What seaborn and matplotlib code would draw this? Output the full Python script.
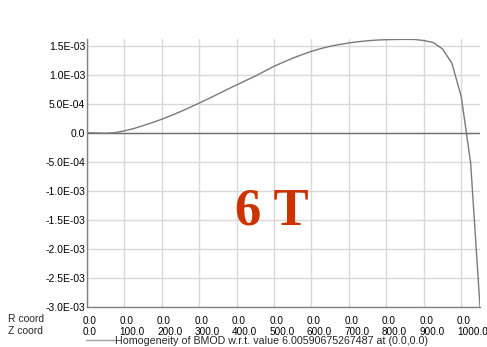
import numpy as np
import pandas as pd
import matplotlib
matplotlib.use("Agg")
import matplotlib.pyplot as plt
import matplotlib.transforms as mtransforms
from matplotlib.lines import Line2D
import seaborn as sns

# Field homogeneity along the axis (R = 0), sampled every 25 mm in Z
z_coord = [0, 25, 50, 75, 100, 125, 150, 175, 200, 225, 250, 275, 300, 325,
           350, 375, 400, 425, 450, 475, 500, 525, 550, 575, 600, 625, 650,
           675, 700, 725, 750, 775, 800, 825, 850, 875, 900, 925, 950, 975,
           1000, 1025, 1050]
homogeneity = [0.0, -0.5e-5, -1.0e-5, 0.0, 3.0e-5, 7.0e-5, 1.2e-4, 1.73e-4,
               2.31e-4, 2.95e-4, 3.62e-4, 4.35e-4, 5.1e-4, 5.85e-4, 6.65e-4,
               7.45e-4, 8.22e-4, 9.0e-4, 9.75e-4, 1.06e-3, 1.145e-3, 1.215e-3,
               1.285e-3, 1.345e-3, 1.403e-3, 1.45e-3, 1.49e-3, 1.52e-3,
               1.547e-3, 1.568e-3, 1.585e-3, 1.597e-3, 1.603e-3, 1.607e-3,
               1.609e-3, 1.607e-3, 1.588e-3, 1.555e-3, 1.443e-3, 1.197e-3,
               6.2e-4, -5.2e-4, -3.0e-3]

# Axis tick rows
z_ticks = [0, 100, 200, 300, 400, 500, 600, 700, 800, 900, 1000]
r_tick_labels = ["0.0"] * 11
z_tick_labels = ["0.0", "100.0", "200.0", "300.0", "400.0", "500.0",
                 "600.0", "700.0", "800.0", "900.0", "1000.0"]
y_ticks = [-3.0e-3, -2.5e-3, -2.0e-3, -1.5e-3, -1.0e-3, -5.0e-4, 0.0,
           5.0e-4, 1.0e-3, 1.5e-3]

series_label = "Homogeneity of BMOD w.r.t. value 6.00590675267487 at (0.0,0.0)"
field_label = "6 T"

sns.set_style("white")
plt.rcParams["font.family"] = ["Liberation Sans", "DejaVu Sans"]
FS = 7.7
FS_X = 7.2
FS_Y = 7.5
plt.rcParams["font.size"] = FS

W, H = 487, 347
fig = plt.figure(figsize=(W / 100, H / 100), dpi=100)
left, right, top, bottom = 86.7, 480.0, 39.0, 306.7
ax = fig.add_axes([left / W, 1 - bottom / H, (right - left) / W, (bottom - top) / H])

df = pd.DataFrame({"z": z_coord, "h": homogeneity})
sns.lineplot(data=df, x="z", y="h", ax=ax, color="#7a7a7a", lw=1.0,
             zorder=3, legend=False)
ax.axhline(0.0, color="#6e6e6e", lw=1.0, zorder=2)

ax.set_xlim(0, 1050)
ax.set_ylim(-3.0e-3, 1.615e-3)
ax.set_xlabel("")
ax.set_ylabel("")

ax.tick_params(axis="both", length=0, colors="#000000")
ax.tick_params(axis="y", pad=1, labelsize=FS_Y)
ax.tick_params(axis="x", pad=6.5, labelsize=FS_X)

ax.set_yticks(y_ticks)
ax.set_yticklabels(["0.0" if v == 0 else f"{v:.1E}" for v in y_ticks])
ax.set_xticks(z_ticks)
ax.set_xticklabels([f"{r}\n{zl}" for r, zl in zip(r_tick_labels, z_tick_labels)],
                   ha="left", linespacing=1.2)
# Two-row labels start slightly left of their tick
shift = mtransforms.ScaledTranslation(-4.5 / 100, 0, fig.dpi_scale_trans)
for lbl in ax.get_xticklabels():
    lbl.set_transform(lbl.get_transform() + shift)

ax.grid(True, color="#d9d9d9", lw=1.0, zorder=0)
ax.set_axisbelow(True)
for side in ["top", "right"]:
    ax.spines[side].set_visible(False)
for side in ["left", "bottom"]:
    ax.spines[side].set_color("#808080")
    ax.spines[side].set_linewidth(1.0)

# Row captions for the two coordinate tick rows
fig.text(8 / W, 1 - 319 / H, "R coord", fontsize=FS_Y, va="center", ha="left")
fig.text(8 / W, 1 - 331 / H, "Z coord", fontsize=FS_Y, va="center", ha="left")

# Large field annotation
ax.text(0.47, 0.355, field_label, transform=ax.transAxes, ha="center",
        va="center", fontsize=38, fontweight="bold", color="#cc3300",
        family=["Liberation Serif", "DejaVu Serif"])

# Series key below the tick rows
handle = Line2D([], [], color="#a0a0a0", lw=1.0)
fig.legend([handle], [series_label], loc="center left",
           bbox_to_anchor=(86 / W, 1 - 341 / H), frameon=False,
           handlelength=2.7, handletextpad=0.0, borderpad=0.0,
           borderaxespad=0.0, fontsize=FS)

fig.savefig("out.png", dpi=100)
